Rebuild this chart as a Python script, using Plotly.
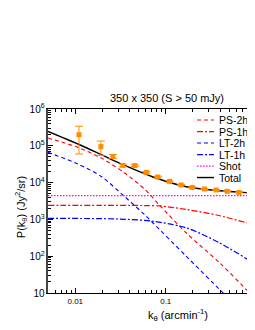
import numpy as np
import plotly.graph_objects as go

# ---- data ----
data_k = [0.011, 0.0192, 0.0261, 0.0336, 0.0454, 0.0612, 0.0817, 0.110, 0.148,
          0.196, 0.268, 0.361, 0.478, 0.643, 0.86]
data_P = [2.0e5, 9.5e4, 5.15e4, 2.93e4, 2.9e4, 1.9e4, 1.42e4, 1.08e4, 8.6e3,
          7.4e3, 6.7e3, 6.3e3, 5.8e3, 5.4e3, 5.2e3]
data_err = [1.4e5, 4.0e4, 6.0e3, 2.5e3, 1.5e3, 1.0e3, 700, 500, 300,
            250, 200, 150, 150, 100, 100]

ps2h_k = [0.005, 0.0107, 0.0194, 0.0352, 0.0585, 0.0859, 0.169, 0.396, 0.815, 0.97]
ps2h_P = [1.63e5, 9.06e4, 4.66e4, 1.82e4, 6.6e3, 2.4e3, 427, 65.3, 11.0, 7.1]

ps1h_k = [0.005, 0.0194, 0.0399, 0.0585, 0.0859, 0.169, 0.396, 0.927, 0.97]
ps1h_P = [2400, 2400, 2395, 2380, 2317, 1862, 1259, 718, 692]

lt2h_k = [0.005, 0.0107, 0.0194, 0.0352, 0.0585, 0.0723, 0.169, 0.414, 0.5]
lt2h_P = [6.62e4, 3.2e4, 1.47e4, 4.14e3, 1.34e3, 798, 98.9, 11.0, 6.9]

lt1h_k = [0.005, 0.0194, 0.031, 0.0723, 0.169, 0.396, 0.927, 0.97]
lt1h_P = [1072, 1047, 1023, 891, 589, 229, 65.3, 60]

shot_k = [0.005, 0.97]
shot_P = [4400, 4400]

total_k = [0.005, 0.0107, 0.0194, 0.0337, 0.0723, 0.169, 0.396, 0.927, 0.97]
total_P = [2.46e5, 1.12e5, 5.73e4, 3.06e4, 1.42e4, 7.7e3, 6.0e3, 5.2e3, 5.15e3]

names = ["PS-2h", "PS-1h", "LT-2h", "LT-1h", "Shot", "Total"]
colors = ["#ff0000", "#ff0000", "#0000ff", "#0000ff", "#ff00ff", "#000000"]
dashes = ["4px,3px", "6px,2px,2px,2px", "4px,3px", "6px,2px,2px,2px", "1.5px,1.5px", "solid"]
widths = [1.1, 1.2, 1.1, 1.2, 1.2, 1.4]

series = [(ps2h_k, ps2h_P), (ps1h_k, ps1h_P), (lt2h_k, lt2h_P),
          (lt1h_k, lt1h_P), (shot_k, shot_P), (total_k, total_P)]

FONT = "Arial, Liberation Sans, sans-serif"
W, H = 239, 314          # page body adds an 8px margin
X_MIN = 0.005
PX_PER_DECADE = 90.5
PLOT_W = W - 40
x_range = [np.log10(X_MIN), np.log10(X_MIN) + PLOT_W / PX_PER_DECADE]

fig = go.Figure()
for (kk, pp), nm, c, d, w in zip(series, names, colors, dashes, widths):
    fig.add_trace(go.Scatter(x=kk, y=pp, mode="lines", name=nm,
                             line=dict(color=c, dash=d, width=w, shape="spline", smoothing=0.8),
                             showlegend=False))

fig.add_trace(go.Scatter(x=data_k, y=data_P, mode="markers", showlegend=False,
                         marker=dict(symbol="square", size=5, color="#ff8c00"),
                         error_y=dict(type="data", array=data_err, visible=True,
                                      color="#ff8c00", thickness=1, width=4)))

# manual legend (compact rows)
shapes = []
annotations = []
for i, (nm, c, d, w) in enumerate(zip(names, colors, dashes, widths)):
    yy = 0.94 - i * 0.0625
    shapes.append(dict(type="line", xref="paper", yref="paper", x0=0.749, x1=0.834,
                       y0=yy, y1=yy, line=dict(color=c, dash=d, width=w)))
    annotations.append(dict(text=nm, xref="paper", yref="paper", x=0.849, y=yy,
                            xanchor="left", yanchor="middle", showarrow=False,
                            font=dict(family=FONT, size=10.5, color="black")))

annotations.append(dict(text="k<sub>θ</sub> (arcmin<sup>-1</sup>)", xref="paper", yref="paper",
                        x=0.653, y=-0.12, xanchor="center", yanchor="middle", showarrow=False,
                        font=dict(family=FONT, size=11, color="black")))
annotations.append(dict(text="P(k<sub>θ</sub>) (Jy<sup>2</sup>/sr)", xref="paper", yref="paper",
                        x=-0.135, y=0.467, xanchor="center", yanchor="middle", showarrow=False,
                        textangle=-90, font=dict(family=FONT, size=11, color="black")))

fig.update_layout(
    width=W, height=H,
    margin=dict(l=40, r=0, t=101, b=29, autoexpand=False),
    paper_bgcolor="white", plot_bgcolor="white",
    font=dict(family=FONT, size=8, color="black"),
    title=dict(text="350 x 350 (S > 50 mJy)", x=0.598, xref="paper", xanchor="center",
               y=1 - 89.7 / H, yanchor="middle", font=dict(family=FONT, size=11, color="black")),
    shapes=shapes, annotations=annotations,
)
fig.update_xaxes(type="log", range=x_range, dtick=1,
                 showline=True, linecolor="black", linewidth=1, mirror="allticks",
                 ticks="inside", ticklen=5, tickcolor="black", showgrid=False, zeroline=False,
                 minor=dict(ticks="inside", ticklen=3, dtick="D1", tickcolor="black", showgrid=False),
                 tickfont=dict(family=FONT, size=8))
fig.update_yaxes(type="log", range=[1, 6], dtick=1, exponentformat="power", showexponent="all",
                 showline=True, linecolor="#444", linewidth=1.5, mirror=False,
                 ticks="inside", ticklen=5, tickcolor="black", showgrid=False, zeroline=False,
                 minor=dict(ticks="inside", ticklen=3, dtick="D1", tickcolor="black", showgrid=False),
                 tickfont=dict(family=FONT, size=8))

fig.write_html("out.html")
